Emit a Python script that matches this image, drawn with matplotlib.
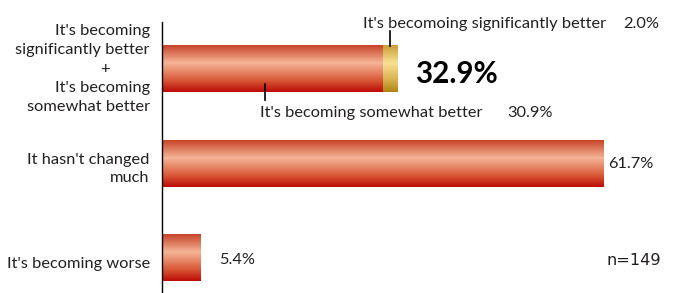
import numpy as np
import matplotlib.pyplot as plt
from matplotlib.colors import LinearSegmentedColormap

categories = [
    "It's becoming\nsignificantly better\n+\nIt's becoming\nsomewhat better",
    "It hasn't changed\nmuch",
    "It's becoming worse",
]
somewhat = [30.9, 61.7, 5.4]
significantly = [2.0, 0.0, 0.0]
value_labels = ["32.9%", "61.7%", "5.4%"]
n_label = "n=149"

plt.rcParams['font.family'] = ['Lato', 'DejaVu Sans']
txt = '#231f20'
fs = 11.8

red = LinearSegmentedColormap.from_list('red', [
    (0.0, (0.78, 0.26, 0.16)), (0.38, (0.96, 0.71, 0.59)),
    (0.75, (0.85, 0.35, 0.22)), (1.0, (0.74, 0.04, 0.02))])
gold = LinearSegmentedColormap.from_list('gold', [
    (0.0, (0.78, 0.62, 0.2)), (0.38, (0.98, 0.88, 0.59)),
    (0.75, (0.84, 0.69, 0.3)), (1.0, (0.68, 0.52, 0.08))])
grad = np.linspace(0, 1, 256).reshape(-1, 1)

fig = plt.figure(figsize=(6.74, 2.93), dpi=100)
ax = fig.add_axes([162 / 674, 0, 512 / 674, 1])
ax.axis('off')

h = 0.49
y = np.arange(len(categories))
for i in y:
    x0, x1 = 0, somewhat[i]
    ax.imshow(grad, cmap=red, aspect='auto', interpolation='bilinear',
              extent=(x0, x1, i + h / 2, i - h / 2), zorder=2)
    if significantly[i] > 0:
        ax.imshow(grad, cmap=gold, aspect='auto', interpolation='bilinear',
                  extent=(x1, x1 + significantly[i], i + h / 2, i - h / 2), zorder=2)
ax.set_xlim(0, 71.5)
ax.set_ylim(2.37, -0.73)

# axis line
ax.plot([0, 0], [-0.5, 2.37], color='black', lw=1, zorder=3, clip_on=False)

# category labels
for i, lab in enumerate(categories):
    if i == 0:
        lines = lab.split("\n")
        for k, ln in enumerate(lines):
            yy = i + (k - 2) * 0.2
            if ln == "+":
                ax.text(-7.9, yy, ln, ha='center', va='center', fontsize=fs, color=txt)
            else:
                ax.text(-1.7, yy, ln, ha='right', va='center', fontsize=fs, color=txt)
    else:
        ax.text(-1.7, i + 0.06, lab, ha='right', va='center', fontsize=fs,
                color=txt, linespacing=1.35)

# value labels
total0 = somewhat[0] + significantly[0]
ax.text(total0 + 2.4, 0.05, value_labels[0], ha='left', va='center',
        fontsize=21.3, fontweight='bold', color='black')
ax.text(somewhat[1] + 0.6, 1.0, value_labels[1], ha='left', va='center', fontsize=fs, color=txt)
ax.text(somewhat[2] + 2.6, 2.02, value_labels[2], ha='left', va='center', fontsize=fs, color=txt)
ax.text(65.85, 2.03, n_label, ha='center', va='center', fontsize=11.6, color=txt,
        family='DejaVu Sans')

# callouts for the top bar
xs = somewhat[0] + significantly[0] / 2
ax.plot([xs, xs], [-0.4, -h / 2], color='black', lw=1.2, zorder=3)
ax.text(xs - 3.8, -0.48, "It's becomoing significantly better", ha='left', va='center',
        fontsize=fs, color=txt)
ax.text(64.4, -0.48, f"{significantly[0]:.1f}%", ha='left', va='center', fontsize=fs, color=txt)

xw = 14.4
ax.plot([xw, xw], [0.16, 0.33], color='black', lw=1.2, zorder=3)
ax.text(xw - 0.7, 0.47, "It's becoming somewhat better", ha='left', va='center',
        fontsize=fs, color=txt)
ax.text(48.2, 0.47, f"{somewhat[0]:.1f}%", ha='left', va='center', fontsize=fs, color=txt)

fig.savefig('out.png', dpi=100)
